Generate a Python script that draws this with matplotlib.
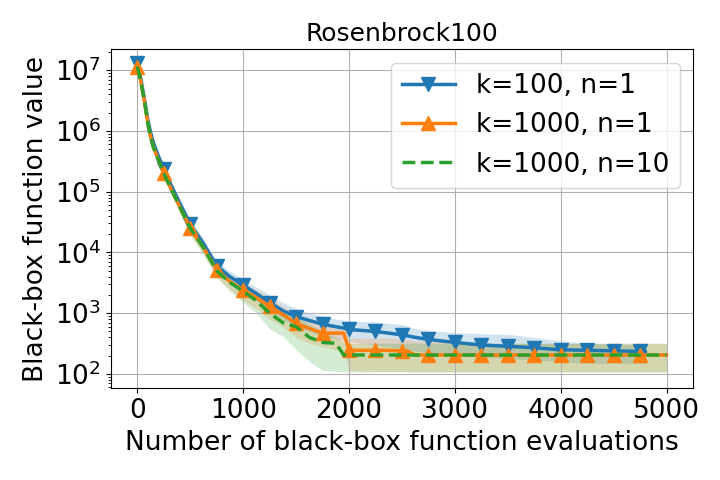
import numpy as np
import matplotlib
matplotlib.use("Agg")
import matplotlib.pyplot as plt

plt.rcParams['font.size'] = 19

# evaluation counts
evals = [0, 25, 50, 75, 100, 125, 150, 200, 250, 300, 375, 500, 625, 750, 875,
         1000, 1125, 1250, 1375, 1500, 1625, 1750, 1875, 1950, 2000, 2125, 2250, 2375,
         2500, 2550, 2625, 2750, 3000, 3250, 3500, 3750, 4000, 4250, 4500, 4750, 4800, 5000]

nan = np.nan

# k=100, n=1
k100_mid = [1.3e7, 8.5e6, 5.0e6, 2.8e6, 1.5e6, 9.5e5, 6.5e5, 3.8e5, 2.4e5, 1.5e5, 8.0e4, 2.9e4,
            1.4e4, 6.0e3, 4.0e3, 2.9e3, 2.1e3, 1.5e3, 1.1e3, 880, 760, 660, 600, 570, 540, 520,
            500, 470, 440, 425, 400, 370, 330, 300, 285, 270, 250, 245, 240, 235, 235, nan]
k100_hi = [1.45e7, 9.6e6, 5.7e6, 3.2e6, 1.7e6, 1.1e6, 7.5e5, 4.4e5, 2.8e5, 1.75e5, 9.5e4, 3.4e4,
           1.65e4, 7.2e3, 4.9e3, 3.6e3, 2.7e3, 2.0e3, 1.5e3, 1.2e3, 1.0e3, 900, 800, 770, 750, 730,
           720, 680, 650, 620, 560, 520, 480, 460, 450, 400, 350, 320, 310, 300, 300, nan]
k100_lo = [1.15e7, 7.5e6, 4.4e6, 2.4e6, 1.3e6, 8.2e5, 5.6e5, 3.2e5, 2.0e5, 1.25e5, 6.6e4, 2.4e4,
           1.15e4, 4.9e3, 3.2e3, 2.3e3, 1.6e3, 1.1e3, 800, 600, 500, 420, 380, 350, 340, 320,
           300, 280, 260, 255, 240, 220, 200, 190, 180, 170, 160, 150, 150, 150, 150, nan]

# k=1000, n=1
k1000_mid = [1.15e7, 7.5e6, 4.5e6, 2.5e6, 1.3e6, 8.0e5, 5.5e5, 3.3e5, 2.0e5, 1.3e5, 7.0e4, 2.5e4,
             1.2e4, 5.2e3, 3.3e3, 2.4e3, 1.8e3, 1.3e3, 950, 680, 560, 470, 470, 470, 245, 245,
             245, 245, 240, 240, 205, 205, 205, 205, 205, 205, 205, 205, 205, 205, 205, 205]
k1000_hi = [1.3e7, 8.5e6, 5.1e6, 2.9e6, 1.5e6, 9.2e5, 6.3e5, 3.8e5, 2.3e5, 1.5e5, 8.2e4, 3.0e4,
            1.45e4, 6.5e3, 4.3e3, 3.2e3, 2.4e3, 1.8e3, 1.3e3, 1.0e3, 800, 650, 600, 600, 390, 390,
            390, 390, 380, 370, 350, 340, 330, 320, 320, 320, 320, 320, 320, 320, 320, 320]
k1000_lo = [1.0e7, 6.6e6, 3.9e6, 2.1e6, 1.1e6, 6.9e5, 4.7e5, 2.8e5, 1.7e5, 1.1e5, 5.8e4, 2.0e4,
            9.5e3, 4.0e3, 2.5e3, 1.6e3, 1.2e3, 800, 600, 400, 320, 280, 250, 240, 115, 112,
            110, 110, 110, 110, 108, 108, 108, 108, 108, 108, 108, 108, 108, 108, 108, 108]

# k=1000, n=10
k1000n10_mid = [1.15e7, 7.5e6, 4.5e6, 2.5e6, 1.3e6, 8.0e5, 5.5e5, 3.3e5, 2.0e5, 1.3e5, 7.0e4, 2.5e4,
                1.2e4, 5.0e3, 3.2e3, 2.3e3, 1.6e3, 1.0e3, 700, 600, 400, 330, 320, 205, 205, 205,
                205, 205, 205, 205, 205, 205, 205, 205, 205, 205, 205, 205, 205, 205, 205, 205]
k1000n10_hi = [1.3e7, 8.5e6, 5.1e6, 2.9e6, 1.5e6, 9.2e5, 6.3e5, 3.8e5, 2.3e5, 1.5e5, 8.5e4, 3.2e4,
               1.5e4, 6.5e3, 4.2e3, 3.0e3, 2.2e3, 1.5e3, 1.1e3, 900, 650, 500, 400, 330, 320, 320,
               320, 320, 320, 320, 320, 320, 320, 320, 320, 320, 320, 320, 320, 320, 320, 320]
k1000n10_lo = [1.0e7, 6.6e6, 3.9e6, 2.1e6, 1.1e6, 6.9e5, 4.7e5, 2.8e5, 1.7e5, 1.1e5, 5.6e4, 1.9e4,
               9.0e3, 3.8e3, 2.3e3, 1.5e3, 1.0e3, 550, 420, 250, 160, 115, 110, 108, 108, 108,
               108, 108, 108, 108, 108, 108, 108, 108, 108, 108, 108, 108, 108, 108, 108, 108]

labels = ['k=100, n=1', 'k=1000, n=1', 'k=1000, n=10']

x = np.array(evals)
marks = [i for i, e in enumerate(evals) if e % 250 == 0 and e < 5000]

fig = plt.figure(figsize=(7.2, 4.8), dpi=100)
ax = fig.add_subplot(111)
fig.subplots_adjust(left=0.154, right=0.9625, bottom=0.191, top=0.897)

series = [
    (k100_mid, k100_lo, k100_hi, 'C0', '-', 'v'),
    (k1000_mid, k1000_lo, k1000_hi, 'C1', '-', '^'),
    (k1000n10_mid, k1000n10_lo, k1000n10_hi, 'C2', '--', None),
]
for (mid, lo, hi, col, ls, mk), lab in zip(series, labels):
    ax.fill_between(x, lo, hi, color=col, alpha=0.2, linewidth=0)
    ax.plot(x, mid, color=col, linestyle=ls, lw=2.5,
            marker=mk, markersize=10, markevery=marks if mk else None, label=lab)

ax.set_yscale('log')
ax.set_ylim(58, 2.2e7)
ax.set_xticks([0, 1000, 2000, 3000, 4000, 5000])
ax.grid(True, which='major')
ax.set_title('Rosenbrock100', fontsize=18)
ax.set_xlabel('Number of black-box function evaluations')
ax.set_ylabel('Black-box function value')
ax.legend(loc='upper right')

fig.savefig('out.png', dpi=100)
